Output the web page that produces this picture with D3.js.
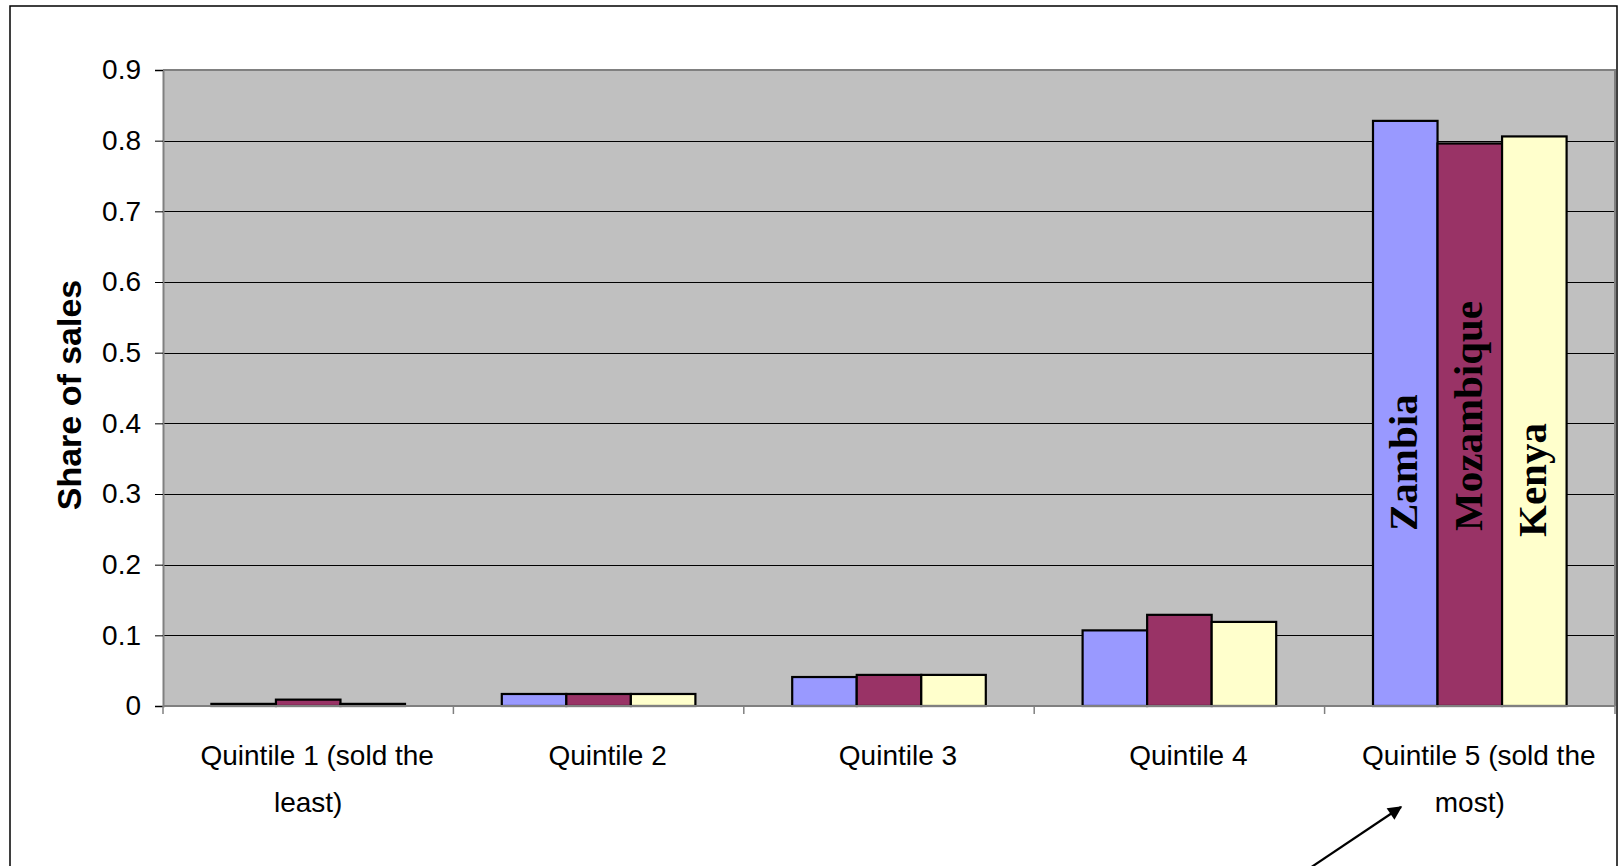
<!DOCTYPE html>
<html>
<head>
<meta charset="utf-8">
<script src="https://cdn.jsdelivr.net/npm/d3@7"></script>
<style>
  body { margin: 0; background: #fff; }
  svg { display: block; }
</style>
</head>
<body>
<svg width="1623" height="866"></svg>
<script>
// data
var categories = ["Quintile 1 (sold the least)", "Quintile 2", "Quintile 3", "Quintile 4", "Quintile 5 (sold the most)"];
var categoryLines = [["Quintile 1 (sold the", "least)"], ["Quintile 2"], ["Quintile 3"], ["Quintile 4"], ["Quintile 5 (sold the", "most)"]];
var seriesNames = ["Zambia", "Mozambique", "Kenya"];
var seriesColors = ["#9999FF", "#993366", "#FFFFCC"];
var zambia = [0.003, 0.017, 0.041, 0.107, 0.828];
var mozambique = [0.009, 0.017, 0.044, 0.129, 0.796];
var kenya = [0.003, 0.017, 0.044, 0.119, 0.806];
var yTicks = [0, 0.1, 0.2, 0.3, 0.4, 0.5, 0.6, 0.7, 0.8, 0.9];

var seriesValues = [zambia, mozambique, kenya];

var svg = d3.select("svg"),
    plotLeft = 163, plotRight = 1615, plotTop = 70, plotBottom = 706;

var x0 = d3.scaleBand().domain(categories).range([plotLeft, plotRight]).padding(0);
var x1 = d3.scaleBand().domain(seriesNames).range([0, x0.bandwidth()]).paddingInner(0).paddingOuter(0.75);
var y = d3.scaleLinear().domain([0, 0.9]).range([plotBottom, plotTop]);

// outer frame
svg.append("rect")
    .attr("x", 10).attr("y", 6)
    .attr("width", 1607).attr("height", 900)
    .attr("fill", "none").attr("stroke", "#000").attr("stroke-width", 1.5);

// plot area
svg.append("rect")
    .attr("x", plotLeft).attr("y", plotTop)
    .attr("width", plotRight - plotLeft).attr("height", plotBottom - plotTop)
    .attr("fill", "#C0C0C0");

// gridlines
svg.append("g").selectAll("line")
    .data(yTicks.filter(function(d) { return d > 0 && d < 0.9; }))
    .enter().append("line")
    .attr("x1", plotLeft).attr("x2", plotRight)
    .attr("y1", function(d) { return Math.round(y(d)) + 0.5; })
    .attr("y2", function(d) { return Math.round(y(d)) + 0.5; })
    .attr("stroke", "#000").attr("stroke-width", 1);

// plot border (top / right)
svg.append("path")
    .attr("d", "M" + plotLeft + "," + plotTop + "H" + plotRight + "V" + plotBottom)
    .attr("fill", "none").attr("stroke", "#808080").attr("stroke-width", 2);

// bars
var groups = svg.append("g").selectAll("g")
    .data(categories)
    .enter().append("g")
    .attr("transform", function(d) { return "translate(" + x0(d) + ",0)"; });

groups.selectAll("rect")
    .data(function(d, i) {
        return seriesNames.map(function(s, j) { return { series: s, idx: j, value: seriesValues[j][i] }; });
    })
    .enter().append("rect")
    .attr("x", function(d) { return x1(d.series); })
    .attr("y", function(d) { return y(d.value); })
    .attr("width", x1.bandwidth())
    .attr("height", function(d) { return plotBottom - y(d.value); })
    .attr("fill", function(d) { return seriesColors[d.idx]; })
    .attr("stroke", "#000").attr("stroke-width", 2.2);

// series names written inside the last group of bars
var last = categories[categories.length - 1];
svg.append("g").selectAll("text")
    .data(seriesNames)
    .enter().append("text")
    .attr("transform", function(d) {
        var cx = x0(last) + x1(d) + x1.bandwidth() / 2 + 12;
        return "translate(" + cx + "," + (d === "Kenya" ? 537 : 531) + ") rotate(-90)";
    })
    .attr("font-family", "'Liberation Serif', 'Times New Roman', serif")
    .attr("font-weight", "bold")
    .attr("font-size", 41)
    .attr("fill", "#000")
    .text(function(d) { return d; });

// y axis
var yAxis = d3.axisLeft(y)
    .tickValues(yTicks)
    .tickSize(8)
    .tickPadding(14)
    .tickFormat(function(d) { return d === 0 ? "0" : d3.format(".1f")(d); });

var gy = svg.append("g")
    .attr("transform", "translate(" + plotLeft + ",0)")
    .call(yAxis);
gy.select(".domain").attr("stroke", "#808080").attr("stroke-width", 2);
gy.selectAll(".tick line").attr("stroke", "#000").attr("stroke-width", 1);
gy.selectAll(".tick text")
    .attr("font-family", "'Liberation Sans', Arial, sans-serif")
    .attr("font-size", 28)
    .attr("fill", "#000");

// x axis
var gx = svg.append("g")
    .attr("transform", "translate(0," + plotBottom + ")");
gx.append("line")
    .attr("x1", plotLeft).attr("x2", plotRight)
    .attr("stroke", "#808080").attr("stroke-width", 2);
gx.selectAll("line.tick")
    .data(categories.concat(["end"]))
    .enter().append("line")
    .attr("class", "tick")
    .attr("x1", function(d, i) { return plotLeft + i * x0.step(); })
    .attr("x2", function(d, i) { return plotLeft + i * x0.step(); })
    .attr("y1", 0).attr("y2", 8)
    .attr("stroke", "#808080").attr("stroke-width", 1.5);

var labels = gx.selectAll("text")
    .data(categories)
    .enter().append("text")
    .attr("y", 59)
    .attr("text-anchor", "middle")
    .attr("font-family", "'Liberation Sans', Arial, sans-serif")
    .attr("font-size", 28)
    .attr("fill", "#000");

labels.each(function(d, i) {
    var t = d3.select(this);
    categoryLines[i].forEach(function(line, k) {
        t.append("tspan")
            .attr("x", x0(d) + x0.bandwidth() / 2 + (k === 0 ? 9 : 0))
            .attr("dy", k === 0 ? 0 : 47)
            .text(line);
    });
});

// y axis title
svg.append("text")
    .attr("transform", "translate(81,395) rotate(-90)")
    .attr("text-anchor", "middle")
    .attr("font-family", "'Liberation Sans', Arial, sans-serif")
    .attr("font-weight", "bold")
    .attr("font-size", 34)
    .attr("fill", "#000")
    .text("Share of sales");

// arrow pointing at the last category label
svg.append("defs").append("marker")
    .attr("id", "head")
    .attr("viewBox", "0 0 10 10")
    .attr("refX", 9).attr("refY", 5)
    .attr("markerWidth", 18).attr("markerHeight", 14)
    .attr("markerUnits", "userSpaceOnUse")
    .attr("orient", "auto")
    .append("path")
    .attr("d", "M0,0L10,5L0,10z")
    .attr("fill", "#000");

svg.append("line")
    .attr("x1", 1310).attr("y1", 868)
    .attr("x2", 1401).attr("y2", 807)
    .attr("stroke", "#000").attr("stroke-width", 2.2)
    .attr("marker-end", "url(#head)");
</script>
</body>
</html>
